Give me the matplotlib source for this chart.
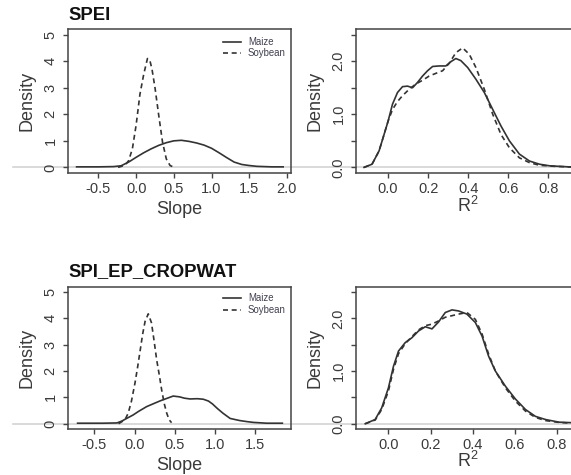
import matplotlib
matplotlib.use("Agg")
import matplotlib.pyplot as plt
from matplotlib.lines import Line2D
from matplotlib.transforms import blended_transform_factory

plt.rcParams['font.family'] = ['Liberation Sans', 'DejaVu Sans']

# ---------------- data ----------------
titles = ["SPEI", "SPI_EP_CROPWAT"]
legend_labels = ["Maize", "Soybean"]

# SPEI slope densities
spei_slope_maize_x = [-0.79, -0.5, -0.3, -0.2, -0.1, 0.0, 0.1, 0.2, 0.3, 0.4, 0.5, 0.6, 0.7, 0.8,
                      0.9, 1.0, 1.1, 1.2, 1.3, 1.4, 1.5, 1.6, 1.8, 1.95]
spei_slope_maize_y = [0.02, 0.02, 0.03, 0.06, 0.2, 0.38, 0.55, 0.7, 0.83, 0.93, 1.0, 1.02, 0.98, 0.92,
                      0.84, 0.72, 0.55, 0.37, 0.2, 0.11, 0.07, 0.04, 0.02, 0.02]
spei_slope_soy_x = [-0.24, -0.15, -0.1, -0.05, 0.0, 0.05, 0.1, 0.15, 0.18, 0.21, 0.25, 0.3, 0.35,
                    0.4, 0.45, 0.5]
spei_slope_soy_y = [0.0, 0.08, 0.25, 0.7, 1.6, 2.75, 3.5, 4.1, 4.05, 3.7, 3.0, 1.95, 0.95,
                    0.32, 0.07, 0.01]

# SPEI R2 densities
spei_r2_maize_x = [-0.12, -0.08, -0.045, -0.02, 0.0, 0.022, 0.047, 0.072, 0.097, 0.122, 0.147, 0.172,
                   0.197, 0.222, 0.255, 0.288, 0.313, 0.338, 0.363, 0.397, 0.438, 0.48, 0.522, 0.563,
                   0.605, 0.655, 0.705, 0.755, 0.805, 0.9, 1.0]
spei_r2_maize_y = [0.0, 0.06, 0.31, 0.62, 0.87, 1.19, 1.41, 1.52, 1.53, 1.50, 1.60, 1.72,
                   1.82, 1.90, 1.91, 1.91, 1.99, 2.05, 2.01, 1.88, 1.66, 1.41, 1.09, 0.78,
                   0.50, 0.25, 0.12, 0.06, 0.03, 0.01, 0.0]
spei_r2_soy_x = [-0.12, -0.08, -0.045, -0.02, 0.0, 0.022, 0.047, 0.072, 0.105, 0.138, 0.172, 0.205,
                 0.238, 0.272, 0.305, 0.338, 0.372, 0.405, 0.438, 0.48, 0.522, 0.563, 0.605, 0.655,
                 0.705, 0.755, 0.83, 0.9, 1.0]
spei_r2_soy_y = [0.0, 0.06, 0.31, 0.62, 0.87, 1.09, 1.24, 1.35, 1.47, 1.57, 1.64, 1.72,
                 1.77, 1.82, 1.96, 2.16, 2.25, 2.13, 1.88, 1.47, 1.0, 0.62, 0.37, 0.18,
                 0.09, 0.04, 0.02, 0.01, 0.0]

# SPI_EP_CROPWAT slope densities
spi_slope_maize_x = [-0.71, -0.4, -0.22, -0.16, -0.1, -0.02, 0.05, 0.15, 0.25, 0.32, 0.4, 0.48, 0.56,
                     0.62, 0.69, 0.78, 0.855, 0.92, 0.97, 1.03, 1.1, 1.19, 1.31, 1.4, 1.48, 1.645, 1.84]
spi_slope_maize_y = [0.02, 0.02, 0.03, 0.1, 0.2, 0.33, 0.47, 0.65, 0.78, 0.87, 0.96, 1.05, 1.02,
                     0.97, 0.94, 0.95, 0.93, 0.86, 0.75, 0.58, 0.4, 0.2, 0.12, 0.08, 0.05, 0.02, 0.02]
spi_slope_soy_x = [-0.2, -0.12, -0.08, -0.04, 0.005, 0.04, 0.07, 0.1, 0.13, 0.17, 0.21, 0.24, 0.275,
                   0.31, 0.337, 0.37, 0.4, 0.43, 0.46]
spi_slope_soy_y = [0.0, 0.15, 0.4, 0.85, 1.55, 2.2, 2.8, 3.4, 3.88, 4.17, 3.83, 3.2, 2.42,
                   1.8, 1.28, 0.75, 0.4, 0.15, 0.04]

# SPI_EP_CROPWAT R2 densities
spi_r2_maize_x = [-0.11, -0.063, -0.032, 0.0, 0.024, 0.048, 0.08, 0.111, 0.143, 0.175, 0.207, 0.238,
                  0.27, 0.302, 0.333, 0.373, 0.413, 0.445, 0.476, 0.508, 0.556, 0.603, 0.651, 0.698,
                  0.746, 0.81, 0.87, 0.95]
spi_r2_maize_y = [0.0, 0.08, 0.3, 0.68, 1.09, 1.38, 1.54, 1.63, 1.76, 1.84, 1.80, 1.93,
                  2.11, 2.16, 2.14, 2.08, 1.92, 1.66, 1.28, 1.0, 0.71, 0.47, 0.27, 0.14,
                  0.08, 0.03, 0.02, 0.01]
spi_r2_soy_x = spi_r2_maize_x
spi_r2_soy_y = [0.0, 0.07, 0.27, 0.62, 1.03, 1.33, 1.52, 1.65, 1.78, 1.86, 1.89, 1.95,
                2.02, 2.05, 2.08, 2.11, 1.98, 1.7, 1.32, 1.0, 0.68, 0.43, 0.24, 0.12,
                0.06, 0.025, 0.01, 0.0]

slope_ticks_top = [-0.5, 0.0, 0.5, 1.0, 1.5, 2.0]
slope_ticks_bottom = [-0.5, 0.0, 0.5, 1.0, 1.5]
r2_ticks = [0.0, 0.2, 0.4, 0.6, 0.8]
slope_yticks = [0, 1, 2, 3, 4, 5]
r2_yticks = [0.0, 0.5, 1.0, 1.5, 2.0, 2.5]
r2_ylabels = ["0.0", "", "1.0", "", "2.0", ""]

# ---------------- figure ----------------
W, H = 571, 475
fig = plt.figure(figsize=(W / 100, H / 100), dpi=100)

def fx(px):
    return px / W

def fy(py):
    return 1 - py / H

def rect(l, r, t, b):
    return [l / W, 1 - b / H, (r - l) / W, (b - t) / H]

DARK = '#333333'
BOX = '#444444'
TXT = '#3a3a3a'
LW = 1.2
DASH = (0, (3.0, 2.2))

panels = [
    (rect(68.3, 290.7, 29.3, 172.7), (-0.90, 2.05), (-0.2, 5.2), slope_ticks_top, slope_yticks,
     [str(v) for v in slope_yticks], (spei_slope_maize_x, spei_slope_maize_y),
     (spei_slope_soy_x, spei_slope_soy_y)),
    (rect(356, 596, 29.3, 172.7), (-0.16, 1.037), (-0.1, 2.6), r2_ticks, r2_yticks, r2_ylabels,
     (spei_r2_maize_x, spei_r2_maize_y), (spei_r2_soy_x, spei_r2_soy_y)),
    (rect(68.3, 290.7, 286.7, 429), (-0.826, 1.944), (-0.2, 5.2), slope_ticks_bottom, slope_yticks,
     [str(v) for v in slope_yticks], (spi_slope_maize_x, spi_slope_maize_y),
     (spi_slope_soy_x, spi_slope_soy_y)),
    (rect(356, 596, 286.7, 429), (-0.154, 0.986), (-0.1, 2.6), r2_ticks, r2_yticks, r2_ylabels,
     (spi_r2_maize_x, spi_r2_maize_y), (spi_r2_soy_x, spi_r2_soy_y)),
]

axes = []
for (r, xl, yl, xt, yt, ylab, maize, soy) in panels:
    ax = fig.add_axes(r)
    ax.patch.set_visible(False)
    ax.set_xlim(*xl)
    ax.set_ylim(*yl)
    ax.plot(maize[0], maize[1], color=DARK, lw=LW, solid_joinstyle='round')
    ax.plot(soy[0], soy[1], color=DARK, lw=LW, linestyle=DASH)
    ax.set_xticks(xt)
    ax.set_xticklabels([f"{v:.1f}" for v in xt])
    ax.set_yticks(yt)
    ax.set_yticklabels(ylab)
    ax.tick_params(direction='out', length=3.6, width=1.0, color=BOX, labelsize=10.5,
                   labelcolor=TXT)
    ax.tick_params(axis='x', pad=3)
    ax.tick_params(axis='y', pad=4, labelrotation=90)
    for lab in ax.get_yticklabels():
        lab.set_va('center')
    for s in ax.spines.values():
        s.set_color(BOX)
        s.set_linewidth(1.1)
    axes.append(ax)

# gray horizontal zero lines spanning the figure rows (drawn under the panels)
for ax in (axes[0], axes[2]):
    tr = blended_transform_factory(fig.transFigure, ax.transData)
    fig.add_artist(Line2D([fx(13), 1.0], [0, 0], transform=tr, color='#cfcfcf', lw=1.1,
                          zorder=-1))

# titles
fig.text(fx(68.3), fy(15), titles[0], fontsize=13.3, fontweight='bold', color='#111111',
         ha='left', va='center')
fig.text(fx(68.3), fy(271.7), titles[1], fontsize=13.3, fontweight='bold', color='#111111',
         ha='left', va='center')

# axis labels
for yc in (101, 358):
    fig.text(fx(27), fy(yc), "Density", rotation=90, fontsize=13, color=TXT, ha='center', va='center')
    fig.text(fx(315), fy(yc), "Density", rotation=90, fontsize=13, color=TXT, ha='center', va='center')
fig.text(fx(179), fy(210), "Slope", fontsize=13, color=TXT, ha='center', va='center')
fig.text(fx(179), fy(465), "Slope", fontsize=13, color=TXT, ha='center', va='center')
fig.text(fx(468), fy(206), r"$\mathregular{R^2}$", fontsize=13, color=TXT, ha='center', va='center')
fig.text(fx(468), fy(461), r"$\mathregular{R^2}$", fontsize=13, color=TXT, ha='center', va='center')

# legends
for y1, y2 in ((42, 53), (298.3, 310)):
    fig.add_artist(Line2D([fx(223), fx(241)], [fy(y1), fy(y1)], transform=fig.transFigure,
                          color=DARK, lw=LW))
    fig.add_artist(Line2D([fx(223), fx(241)], [fy(y2), fy(y2)], transform=fig.transFigure,
                          color=DARK, lw=LW, linestyle=DASH))
    fig.text(fx(248), fy(y1), legend_labels[0], fontsize=6.9, color='#404050', ha='left', va='center')
    fig.text(fx(248), fy(y2), legend_labels[1], fontsize=6.9, color='#404050', ha='left', va='center')

fig.savefig("out.png", dpi=100)
